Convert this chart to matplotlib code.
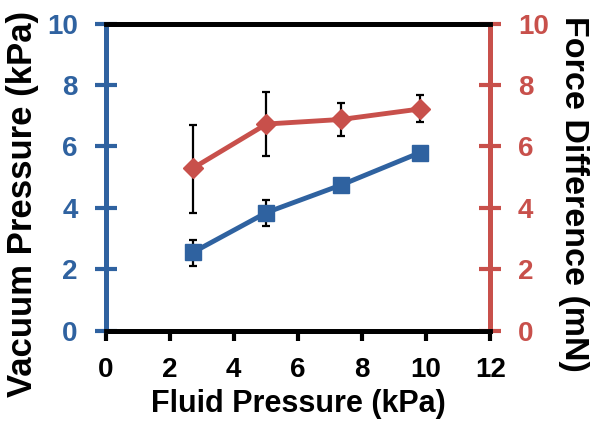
import matplotlib.pyplot as plt

plt.rcParams['font.family'] = ['Liberation Sans', 'DejaVu Sans']
plt.rcParams['font.weight'] = 'bold'

BLUE = '#2F62A0'
RED = '#C8504B'

# data
fluid_kpa = [2.72, 5.02, 7.36, 9.81]
vacuum_kpa = [2.55, 3.85, 4.75, 5.80]
vacuum_err_lo = [0.43, 0.44, 0.0, 0.0]
vacuum_err_hi = [0.40, 0.40, 0.0, 0.0]
force_mn = [5.29, 6.73, 6.88, 7.22]
force_err_lo = [1.46, 1.05, 0.54, 0.42]
force_err_hi = [1.42, 1.05, 0.55, 0.44]

xticks = [0, 2, 4, 6, 8, 10, 12]
yticks = [0, 2, 4, 6, 8, 10]

fig = plt.figure(figsize=(6, 4.28), dpi=100)
ax = fig.add_axes([0.176, 0.227, 0.641, 0.718])
ax2 = ax.twinx()

ax.errorbar(fluid_kpa, vacuum_kpa, yerr=[vacuum_err_lo, vacuum_err_hi], fmt='none',
            ecolor='black', elinewidth=1.6, capsize=3, capthick=1.6, zorder=2)
ax.plot(fluid_kpa, vacuum_kpa, color=BLUE, lw=3.5, marker='s', ms=12, zorder=3)

ax2.errorbar(fluid_kpa, force_mn, yerr=[force_err_lo, force_err_hi], fmt='none',
             ecolor='black', elinewidth=1.6, capsize=3, capthick=1.6, zorder=2)
ax2.plot(fluid_kpa, force_mn, color=RED, lw=3.5, marker='D', ms=10.5, zorder=3)

ax.set_xlim(0, 12)
ax.set_ylim(0, 10)
ax2.set_ylim(0, 10)
ax.set_xticks(xticks)
ax.set_yticks(yticks)
ax2.set_yticks(yticks)

for a in (ax, ax2):
    for s in a.spines.values():
        s.set_linewidth(3.5)
    a.spines['top'].set_color('black')
    a.spines['bottom'].set_color('black')
    a.spines['left'].set_color(BLUE)
    a.spines['right'].set_color(RED)

ax.tick_params(axis='x', direction='out', length=7, width=3, labelsize=20, pad=12)
ax.tick_params(axis='y', direction='inout', length=16, width=3, colors=BLUE,
               labelsize=20, pad=12)
ax2.tick_params(axis='y', direction='inout', length=16, width=3, colors=RED,
                labelsize=20, pad=12)

ax.set_xlabel('Fluid Pressure (kPa)', fontsize=22, fontweight='bold', labelpad=4)

# y labels placed in figure coords, as in the reference they sit off-centre
fig.text(23 / 600, 1 - 204 / 428, 'Vacuum Pressure (kPa)', fontsize=25,
         fontweight='bold', rotation=90, ha='center', va='center')
fig.text(573 / 600, 1 - 194 / 428, 'Force Difference (mN)', fontsize=24.5,
         fontweight='bold', rotation=270, ha='center', va='center')

fig.savefig('out.png', dpi=100)
